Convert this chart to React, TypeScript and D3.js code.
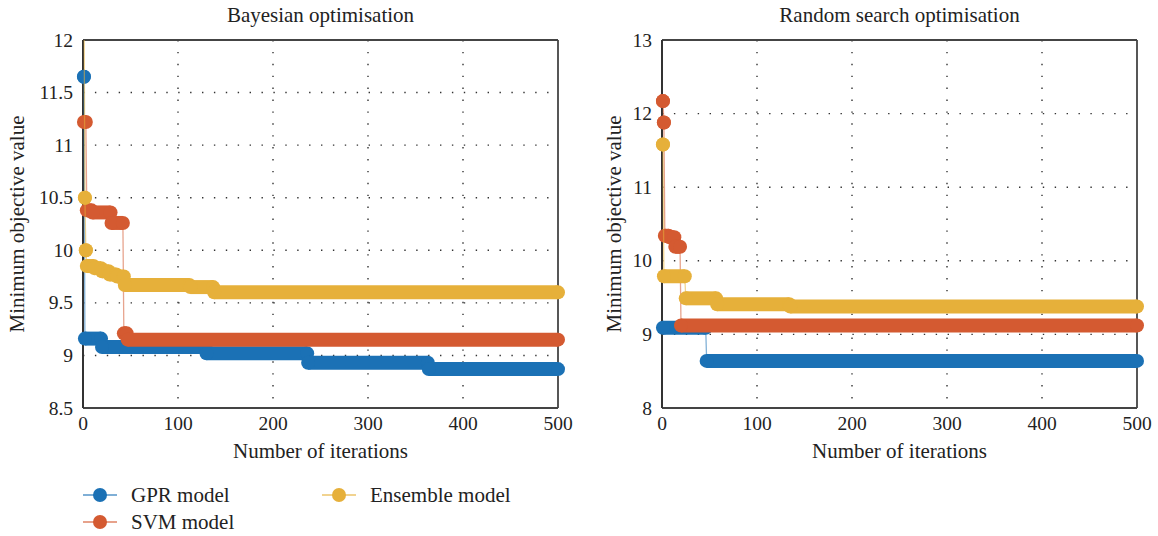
import React from "react";
import * as d3 from "d3";

// ---- Data (iteration at which the running minimum changes, value) ----
const iterTicks = [0, 100, 200, 300, 400, 500];
const bayesYTicks = [8.5, 9, 9.5, 10, 10.5, 11, 11.5, 12];
const randomYTicks = [8, 9, 10, 11, 12, 13];

const bayesGPR: [number, number][] = [
  [1, 11.65], [2, 9.16], [20, 9.08], [130, 9.02], [237, 8.93], [364, 8.87],
];
const bayesSVM: [number, number][] = [
  [1, 11.22], [4, 10.38], [10, 10.36], [30, 10.26], [43, 9.21], [47, 9.15],
];
const bayesEnsemble: [number, number][] = [
  [1, 12.6], [2, 10.5], [3, 10.0], [4, 9.85], [12, 9.83], [20, 9.8], [28, 9.77],
  [36, 9.75], [44, 9.67], [113, 9.65], [138, 9.6],
];

const randomGPR: [number, number][] = [
  [1, 9.09], [47, 8.64],
];
const randomSVM: [number, number][] = [
  [1, 12.17], [2, 11.88], [3, 10.34], [8, 10.32], [14, 10.19], [20, 9.12],
];
const randomEnsemble: [number, number][] = [
  [1, 11.58], [2, 9.79], [25, 9.49], [58, 9.41], [135, 9.38],
];

const seriesNames = ["GPR model", "SVM model", "Ensemble model"];
const colors = ["#1b71b5", "#d45a31", "#e6b03a"];
const lastIter = 500;

const FONT = "'Liberation Serif', 'DejaVu Serif', serif";

type Panel = {
  title: string;
  x0: number; x1: number; y0: number; y1: number;
  yDomain: [number, number];
  yTicks: number[];
  labelX: number;
  series: [number, number][][];
};

const panels: Panel[] = [
  { title: "Bayesian optimisation", x0: 83, x1: 558, y0: 40, y1: 408, yDomain: [8.5, 12], yTicks: bayesYTicks, labelX: 24, series: [bayesGPR, bayesSVM, bayesEnsemble] },
  { title: "Random search optimisation", x0: 662, x1: 1137, y0: 40, y1: 408, yDomain: [8, 13], yTicks: randomYTicks, labelX: 621, series: [randomGPR, randomSVM, randomEnsemble] },
];

const R = 7;

function SeriesMarks({ data, color, x, y }: { data: [number, number][]; color: string; x: d3.ScaleLinear<number, number>; y: d3.ScaleLinear<number, number> }) {
  const segs = data.map((d, i) => ({
    start: d[0],
    end: i < data.length - 1 ? data[i + 1][0] - 1 : lastIter,
    v: d[1],
  }));
  const pts: [number, number][] = [];
  segs.forEach((s) => {
    pts.push([x(s.start), y(s.v)]);
    pts.push([x(s.end), y(s.v)]);
  });
  const line = d3.line();
  return (
    <g>
      <path d={line(pts) || ""} fill="none" stroke={color} strokeOpacity={0.55} strokeWidth={1.3} />
      {segs.map((s, i) => (
        <g key={i}>
          {s.end > s.start && (
            <line x1={x(s.start)} x2={x(s.end)} y1={y(s.v)} y2={y(s.v)} stroke={color} strokeWidth={2 * R} />
          )}
          <circle cx={x(s.start)} cy={y(s.v)} r={R} fill={color} />
          <circle cx={x(s.end)} cy={y(s.v)} r={R} fill={color} />
        </g>
      ))}
    </g>
  );
}

function PanelView({ p, idx }: { p: Panel; idx: number }) {
  const x = d3.scaleLinear().domain([0, 500]).range([p.x0, p.x1]);
  const y = d3.scaleLinear().domain(p.yDomain).range([p.y1, p.y0]);
  const cx = (p.x0 + p.x1) / 2;
  const cy = (p.y0 + p.y1) / 2;
  const axisColor = "#444";
  return (
    <g>
      <text x={cx} y={22} textAnchor="middle" fontSize={21} fontFamily={FONT} fill="#222">{p.title}</text>
      {/* grid */}
      {p.yTicks.slice(1, -1).map((t) => (
        <line key={"gy" + t} x1={p.x0} x2={p.x1} y1={y(t)} y2={y(t)} stroke="#333" strokeWidth={1.4} strokeDasharray="1.4,10.5" />
      ))}
      {iterTicks.slice(1, -1).map((t) => (
        <line key={"gx" + t} x1={x(t)} x2={x(t)} y1={p.y0} y2={p.y1} stroke="#333" strokeWidth={1.4} strokeDasharray="1.4,10.5" />
      ))}
      {/* frame */}
      <line x1={p.x0} x2={p.x1} y1={p.y0} y2={p.y0} stroke={axisColor} strokeWidth={1.8} />
      <line x1={p.x1} x2={p.x1} y1={p.y0} y2={p.y1} stroke={axisColor} strokeWidth={1.8} />
      <line x1={p.x0} x2={p.x1} y1={p.y1} y2={p.y1} stroke={axisColor} strokeWidth={1.8} />
      <line x1={p.x0} x2={p.x0} y1={p.y0} y2={p.y1} stroke="#333" strokeWidth={2} />
      {/* ticks labels */}
      {p.yTicks.map((t) => (
        <text key={"ty" + t} x={p.x0 - 10} y={y(t) + 6.5} textAnchor="end" fontSize={19.5} fontFamily={FONT} fill="#222">{String(t)}</text>
      ))}
      {iterTicks.map((t) => (
        <text key={"tx" + t} x={x(t)} y={430} textAnchor="middle" fontSize={19.5} fontFamily={FONT} fill="#222">{String(t)}</text>
      ))}
      <text x={cx} y={458} textAnchor="middle" fontSize={21} fontFamily={FONT} fill="#222">Number of iterations</text>
      <text transform={`translate(${p.labelX},${cy}) rotate(-90)`} textAnchor="middle" fontSize={21} fontFamily={FONT} fill="#222">Minimum objective value</text>
      <clipPath id={"clip" + idx}>
        <rect x={p.x0 - 20} y={p.y0} width={p.x1 - p.x0 + 40} height={p.y1 - p.y0 + 20} />
      </clipPath>
      <g clipPath={`url(#clip${idx})`}>
        {p.series.map((s, i) => (
          <SeriesMarks key={i} data={s} color={colors[i]} x={x} y={y} />
        ))}
      </g>
    </g>
  );
}

const legendPos = [
  { x: 83, y: 495 },
  { x: 83, y: 522 },
  { x: 322, y: 495 },
];

export default function App() {
  return (
    <svg width={1158} height={536} style={{ position: "absolute", left: 0, top: 0, background: "#fff" }}>
      {panels.map((p, i) => (
        <PanelView key={i} p={p} idx={i} />
      ))}
      {seriesNames.map((n, i) => (
        <g key={n}>
          <line x1={legendPos[i].x} x2={legendPos[i].x + 34} y1={legendPos[i].y} y2={legendPos[i].y} stroke={colors[i]} strokeOpacity={0.75} strokeWidth={1.5} />
          <circle cx={legendPos[i].x + 17} cy={legendPos[i].y} r={R} fill={colors[i]} />
          <text x={legendPos[i].x + 48} y={legendPos[i].y + 7} fontSize={21} fontFamily={FONT} fill="#222">{n}</text>
        </g>
      ))}
    </svg>
  );
}
